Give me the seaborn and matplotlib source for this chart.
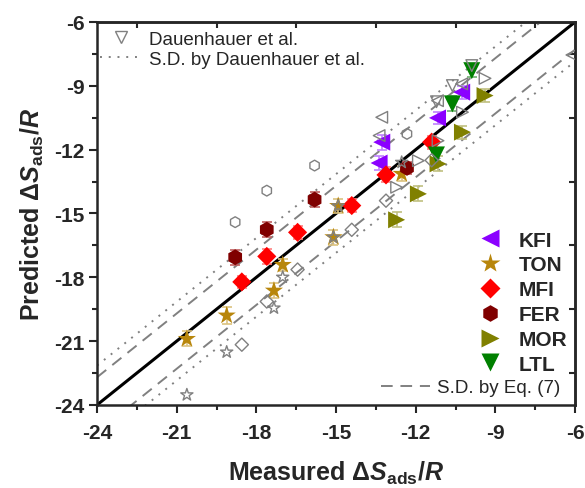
import numpy as np
import pandas as pd
import matplotlib
matplotlib.use("Agg")
import matplotlib.pyplot as plt
from matplotlib.lines import Line2D
import seaborn as sns

# ---- measured vs. predicted entropies (this work) ----
kfi_meas = [-13.28, -13.38, -11.18, -10.27]
kfi_pred = [-11.65, -12.63, -10.51, -9.30]
ton_meas = [-20.62, -19.12, -17.34, -17.01, -15.10, -14.92, -12.53]
ton_pred = [-20.90, -19.80, -18.63, -17.42, -16.12, -14.65, -13.14]
mfi_meas = [-18.55, -17.61, -16.45, -14.41, -13.12, -11.40]
mfi_pred = [-18.22, -17.02, -15.89, -14.63, -13.19, -11.65]
fer_meas = [-18.80, -17.61, -15.81, -12.33]
fer_pred = [-17.06, -15.76, -14.35, -12.86]
mor_meas = [-12.72, -11.90, -11.16, -10.24, -9.39]
mor_pred = [-15.30, -14.08, -12.67, -11.18, -9.46]
ltl_meas = [-11.22, -10.62, -9.89]
ltl_pred = [-12.25, -9.85, -8.29]

# error bars on the predictions
kfi_err = [0.35, 0.35, 0.3, 0.3]
ton_err = [0.35, 0.4, 0.35, 0.3, 0.35, 0.35, 0.35]
mfi_err = [0.3, 0.35, 0.3, 0.3, 0.35, 0.3]
fer_err = [0.35, 0.35, 0.35, 0.3]
mor_err = [0.35, 0.35, 0.35, 0.3, 0.3]
ltl_err = [0.3, 0.35, 0.3]

# ---- predictions by Dauenhauer et al. for the same measurements ----
kfi_dau = [-10.48, -11.34, -9.70, -8.91]
ton_dau = [-23.53, -21.52, -19.45, -18.00, -16.12, -14.65, -12.60]
mfi_dau = [-21.17, -19.14, -17.64, -15.77, -14.40, -12.50]
fer_dau = [-15.41, -13.93, -12.75, -11.26]
mor_dau = [-13.77, -12.52, -11.58, -10.24, -8.65]
ltl_dau = [-9.75, -8.99, -8.05]
extra_meas = [-6.12]
extra_dau = [-7.55]

zeolites = ["KFI", "TON", "MFI", "FER", "MOR", "LTL"]
meas = [kfi_meas, ton_meas, mfi_meas, fer_meas, mor_meas, ltl_meas]
pred = [kfi_pred, ton_pred, mfi_pred, fer_pred, mor_pred, ltl_pred]
errs = [kfi_err, ton_err, mfi_err, fer_err, mor_err, ltl_err]
dau = [kfi_dau, ton_dau, mfi_dau, fer_dau, mor_dau, ltl_dau]

palette = {"KFI": "#8B00FF", "TON": "#B8860B", "MFI": "#FF0000",
           "FER": "#800000", "MOR": "#808000", "LTL": "#008000"}
errcol = {"KFI": "#C080FF", "TON": "#DCC27F", "MFI": "#FF8080",
          "FER": "#C06060", "MOR": "#C0C080", "LTL": "#70B070"}
markers = {"KFI": "<", "TON": "*", "MFI": "D", "FER": "h", "MOR": ">", "LTL": "v"}
msize = {"KFI": 150, "TON": 190, "MFI": 95, "FER": 130, "MOR": 150, "LTL": 150}
hsize = {"KFI": 70, "TON": 85, "MFI": 45, "FER": 60, "MOR": 70, "LTL": 70}

rows = []
for z, xs, ys, es, ds in zip(zeolites, meas, pred, errs, dau):
    for x, y, e, d in zip(xs, ys, es, ds):
        rows.append({"zeolite": z, "measured": x, "predicted": y, "err": e, "dau": d})
df = pd.DataFrame(rows)

sns.set_theme(style="ticks")
plt.rcParams["font.family"] = ["Liberation Sans", "DejaVu Sans"]
plt.rcParams["mathtext.fontset"] = "custom"
plt.rcParams["mathtext.rm"] = "Liberation Sans:bold"
plt.rcParams["mathtext.it"] = "Liberation Sans:italic:bold"
plt.rcParams["mathtext.bf"] = "Liberation Sans:bold"

fig, ax = plt.subplots(figsize=(5.85, 4.89), dpi=100)
fig.subplots_adjust(left=0.166, right=0.983, top=0.953, bottom=0.170)

lims = np.array([-24, -6])
grey = "#808080"
ax.plot(lims, lims, color="black", lw=2.2, zorder=2)
for off in (1.3, -1.3):
    ax.plot(lims, lims + off, color=grey, lw=1.4, ls=(0, (6, 4)), zorder=1)
for off in (1.85, -1.85):
    ax.plot(lims, lims + off, color=grey, lw=1.4, ls=(0, (1, 3.5)), zorder=1)

# error bars
for z in zeolites:
    sub = df[df.zeolite == z]
    ax.errorbar(sub.measured, sub.predicted, yerr=sub.err, fmt="none",
                ecolor=errcol[z], elinewidth=1.2, capsize=3.5, capthick=1.2, zorder=3)

# filled markers of this work
for z in zeolites:
    sub = df[df.zeolite == z]
    sns.scatterplot(data=sub, x="measured", y="predicted", marker=markers[z],
                    color=palette[z], s=msize[z], edgecolor="none", linewidth=0,
                    legend=False, ax=ax, zorder=4)

# open markers from Dauenhauer et al.
for z in zeolites:
    sub = df[df.zeolite == z]
    sns.scatterplot(data=sub, x="measured", y="dau", marker=markers[z],
                    facecolor="none", edgecolor=grey, linewidth=1.0, s=hsize[z],
                    legend=False, ax=ax, zorder=5)
sns.scatterplot(x=extra_meas, y=extra_dau, marker="<", facecolor="none",
                edgecolor=grey, linewidth=1.0, s=hsize["KFI"], legend=False, ax=ax, zorder=5)

ax.set_xlim(-24, -6)
ax.set_ylim(-24, -6)
ticks = np.arange(-24, -5, 3)
ax.set_xticks(ticks)
ax.set_yticks(ticks)
ax.set_xticks(np.arange(-24, -5, 1.5), minor=True)
ax.set_yticks(np.arange(-24, -5, 1.5), minor=True)
ax.set_xticklabels([f"{t:d}" for t in ticks], fontsize=15, fontweight="bold")
ax.set_yticklabels([f"{t:d}" for t in ticks], fontsize=15, fontweight="bold")
ax.tick_params(which="major", direction="out", length=6, width=1.5, pad=3)
ax.tick_params(axis="x", which="major", pad=7)
ax.tick_params(which="minor", direction="out", length=3.5, width=1.5)
for s in ax.spines.values():
    s.set_linewidth(1.8)
    s.set_visible(True)

# inward ticks on the opposite sides
inner = np.arange(-22.5, -6, 3)
top = ax.secondary_xaxis("top")
top.set_xticks(inner)
top.set_xticklabels([])
top.tick_params(direction="in", length=4, width=1.5)
right = ax.secondary_yaxis("right")
right.set_yticks(inner)
right.set_yticklabels([])
right.tick_params(direction="in", length=4, width=1.5)
top.spines["top"].set_linewidth(1.8)
right.spines["right"].set_linewidth(1.8)

ax.set_xlabel(r"Measured $\Delta S_{\mathrm{ads}}/R$", fontsize=18, fontweight="bold", labelpad=12)
ax.set_ylabel(r"Predicted $\Delta S_{\mathrm{ads}}/R$", fontsize=18, fontweight="bold", labelpad=6)

# legends
h_dau = [Line2D([], [], ls="none", marker="v", mfc="none", mec=grey, ms=8, mew=1.0),
         Line2D([], [], color=grey, lw=1.4, ls=(0, (1, 3.5)))]
leg1 = ax.legend(h_dau, ["Dauenhauer et al.", "S.D. by Dauenhauer et al."],
                 loc="upper left", bbox_to_anchor=(-0.022, 1.012), frameon=False,
                 fontsize=13.5, handlelength=2.25, handletextpad=0.38, labelspacing=0.15,
                 borderpad=0.2)
ax.add_artist(leg1)

ms_leg = {"KFI": 13, "TON": 15, "MFI": 10, "FER": 12, "MOR": 13, "LTL": 13}
h_z = [Line2D([], [], ls="none", marker=markers[z], color=palette[z], mec="none", ms=ms_leg[z])
       for z in zeolites]
leg2 = ax.legend(h_z, zeolites, loc="lower right", bbox_to_anchor=(1.006, 0.054),
                 frameon=False, prop={"size": 15, "weight": "bold"},
                 handlelength=1.2, handletextpad=0.8, labelspacing=0.28, borderpad=0)
ax.add_artist(leg2)

h_sd = [Line2D([], [], color=grey, lw=1.4, ls=(0, (6, 4)))]
ax.legend(h_sd, ["S.D. by Eq. (7)"], loc="lower right", bbox_to_anchor=(0.997, -0.012),
          frameon=False, fontsize=13.5, handlelength=2.6, handletextpad=0.4, borderpad=0.2)

fig.savefig("out.png", dpi=100)
